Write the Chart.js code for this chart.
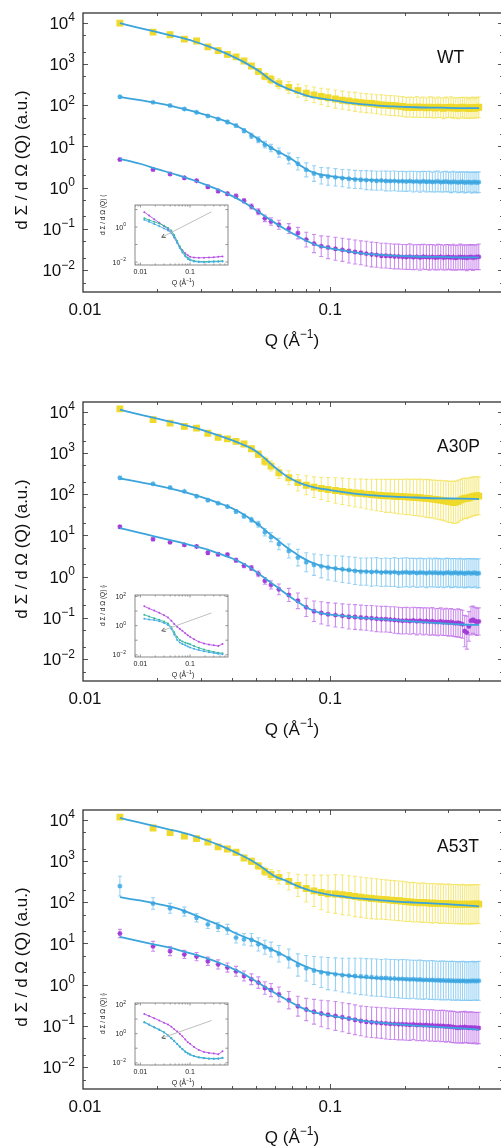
<!DOCTYPE html>
<html lang="en">
<head>
  <meta charset="UTF-8">
  <title>SANS curves WT / A30P / A53T</title>
  <script src="https://cdn.jsdelivr.net/npm/chart.js"></script>
  <style>
    html, body { margin: 0; padding: 0; background: #fff; overflow: hidden; }
    body { width: 501px; height: 1146px; position: relative; }
    canvas { position: absolute; }
  </style>
</head>
<body>
  <canvas id="main-wt" width="520" height="360" style="left:0;top:0"></canvas>
  <canvas id="main-a30p" width="520" height="360" style="left:0;top:389px"></canvas>
  <canvas id="main-a53t" width="520" height="360" style="left:0;top:797px"></canvas>
  <canvas id="inset-wt" width="140" height="100" style="left:95px;top:195px"></canvas>
  <canvas id="inset-a30p" width="140" height="100" style="left:95px;top:585px"></canvas>
  <canvas id="inset-a53t" width="140" height="100" style="left:95px;top:993px"></canvas>
  <script>
    // Q grid of the measured points (1/Å)
    const Q = [0.0141,0.0192,0.0225,0.0257,0.0288,0.0320,0.0352,0.0384,0.0416,0.0448,0.0480,0.0512,0.0544,0.0576,
      0.062,0.068,0.074,0.080,0.086,0.092,0.098,
      0.105,0.112,0.119,0.126,0.133,0.140,0.147,0.154,0.161,0.168,0.175,0.182,0.189,0.196,
      0.203,0.210,0.217,0.224,0.231,0.238,0.245,0.252,0.259,0.266,0.273,0.280,0.287,0.294,0.301,0.308,0.315,0.322,0.329,0.336,
      0.343,0.350,0.357,0.364,0.371,0.378,0.385,0.392,0.399];
    // Q grid of the fitted curves
    const FIT_Q = [0.0141,0.017,0.02,0.024,0.028,0.032,0.036,0.04,0.044,0.048,0.052,0.056,0.06,0.065,0.07,
      0.076,0.083,0.09,0.1,0.115,0.13,0.15,0.18,0.22,0.28,0.34,0.4];
    // Q grid of the insets
    const INSET_Q = [0.012,0.015,0.019,0.024,0.030,0.036,0.042,0.048,0.055,0.062,0.070,0.080,0.090,0.100,0.120,0.150,0.190,0.240,0.300,0.370,0.450];
    const ARROW_Q = [0.027, 0.27];

    // errors are given as half-width in hundredths of a decade
    // ---- WT ----
    const wtYellow = [9800,5900,5100,4000,3600,2600,2100,1700,1480,1180,890,660,500,420,
      330,270,225,195,178,162,151,
      141,132,126,120,115,112,110,105,102,100,98,97,95,93,
      89,90,88,91,87,89,86,90,88,85,89,87,84,88,86,90,85,87,84,86,89,85,87,83,86,88,84,87,89];
    const wtYellowErr = [1,2,2,2,2,2,3,3,3,4,5,6,8,10,
      12,14,16,18,19,20,21,
      22,22,22,23,23,23,23,23,24,24,24,24,24,24,
      24,24,24,25,24,25,24,25,25,24,25,24,25,25,24,25,25,24,25,25,24,25,25,24,25,25,24,25,25];
    const wtBlue = [160,117,98,81,67,55,46,39,32,24,18,14.5,11,9.1,
      7.1,5.1,3.8,2.7,2.2,1.95,1.86,
      1.78,1.70,1.64,1.58,1.56,1.52,1.50,1.47,1.49,1.45,1.44,1.46,1.42,1.43,
      1.41,1.44,1.40,1.42,1.38,1.43,1.39,1.41,1.37,1.40,1.42,1.36,1.39,1.41,1.37,1.35,1.40,1.38,1.34,1.37,1.39,1.33,1.36,1.38,1.32,1.35,1.37,1.33,1.36];
    const wtBlueErr = [2,2,2,2,3,3,3,4,4,5,6,7,8,9,
      11,13,15,17,19,20,21,
      21,21,22,22,22,23,23,23,23,24,24,24,24,24,
      24,24,25,24,25,24,25,25,24,25,25,24,25,25,24,25,25,24,25,25,24,25,25,24,25,25,24,25,25];
    const wtPurple = [4.8,2.75,2.15,1.74,1.48,1.05,0.83,0.71,0.62,0.48,0.35,0.26,0.18,0.151,
      0.126,0.102,0.079,0.055,0.044,0.038,0.0355,
      0.033,0.031,0.029,0.0275,0.0263,0.0251,0.024,0.0234,0.0224,0.0224,0.0219,0.0214,0.0214,0.0209,
      0.0208,0.0212,0.0205,0.0210,0.0203,0.0211,0.0207,0.0204,0.0209,0.0202,0.0206,0.0210,0.0201,0.0205,0.0208,
      0.0203,0.0207,0.0200,0.0204,0.0209,0.0202,0.0206,0.0199,0.0205,0.0208,0.0201,0.0204,0.0207,0.0210];
    const wtPurpleErr = [2,3,3,3,3,4,4,4,5,5,6,7,8,9,
      11,12,14,18,22,25,27,
      28,28,29,29,29,30,30,30,30,30,30,30,30,30,
      30,31,30,30,31,30,30,31,30,30,31,30,30,31,30,30,31,30,30,31,30,30,31,30,30,31,30,30,31];
    const wtYellowFit = [9770,7410,5890,4570,3550,2690,2040,1550,1170,871,646,457,347,275,229,191,162,148,135,117,107,100,93,89,87,85,85];
    const wtBlueFit = [158,132,112,89,71,56,45,35.5,26.9,19.5,14.1,10.5,8.1,6.3,4.9,3.4,2.5,2.14,1.91,1.70,1.58,1.51,1.45,1.41,1.38,1.35,1.35];
    const wtPurpleFit = [5.01,3.80,2.82,2.04,1.51,1.12,0.851,0.631,0.468,0.339,0.245,0.182,0.138,0.102,0.0794,0.0603,0.0468,0.0389,0.0339,0.0295,0.0263,0.0240,0.0224,0.0214,0.0209,0.0204,0.0204];

    // ---- A30P ----
    const a30pYellow = [11700,6400,5300,4400,4000,3000,2400,2200,1900,1650,1260,930,630,480,
      330,250,190,165,148,138,130,
      123,117,112,107,105,100,98,95,93,91,91,89,87,87,
      86,85,84,83,82,80,79,78,76,75,73,72,70,68,66,65,63,64,67,72,76,80,79,82,85,88,90,92,90];
    const a30pYellowErr = [2,2,2,2,3,3,3,4,4,5,6,8,10,12,
      14,17,20,23,25,27,29,
      31,32,33,34,35,36,37,38,39,40,40,41,42,42,
      43,43,44,44,45,45,46,46,46,47,47,48,48,49,50,50,51,51,51,50,50,49,49,48,48,47,47,46,46];
    const a30pBlue = [250,178,145,117,89,71,60,50,38,29.5,24,18.6,12,9.1,
      6.2,4.2,2.9,2.24,1.95,1.78,1.66,
      1.58,1.51,1.45,1.38,1.32,1.32,1.29,1.32,1.26,1.29,1.26,1.29,1.23,1.26,
      1.28,1.24,1.27,1.22,1.26,1.25,1.21,1.27,1.23,1.26,1.22,1.25,1.20,1.24,1.27,1.21,1.23,1.26,1.20,1.24,1.22,1.19,1.23,1.25,1.20,1.22,1.24,1.19,1.21];
    const a30pBlueErr = [2,2,2,2,3,3,3,4,4,5,6,7,9,11,
      14,17,20,23,26,28,30,
      31,32,32,33,33,33,34,34,34,34,34,35,35,35,
      35,35,34,35,35,34,35,35,34,35,35,34,35,35,34,35,35,34,35,35,34,35,35,34,35,35,34,35,35];
    const a30pPurple = [16.2,8.1,6.8,5.9,5.4,3.8,3.5,3.4,2.5,1.86,1.62,1.17,0.79,0.63,
      0.49,0.36,0.26,0.18,0.145,0.132,0.123,
      0.117,0.112,0.107,0.105,0.102,0.100,0.098,0.095,0.093,0.093,0.091,0.089,0.087,0.085,
      0.086,0.084,0.087,0.083,0.085,0.082,0.084,0.081,0.083,0.080,0.079,0.082,0.078,0.080,0.077,0.079,0.076,0.074,0.076,0.073,
      0.070,0.048,0.044,0.062,0.085,0.090,0.084,0.080,0.082];
    const a30pPurpleErr = [3,3,3,3,3,4,4,4,5,5,6,7,8,10,
      13,16,19,22,25,27,28,
      29,29,30,30,30,30,31,31,31,31,31,32,32,32,
      32,32,32,33,32,33,32,33,33,32,33,33,32,33,33,33,33,33,34,34,34,38,40,36,34,33,33,33,33];
    const a30pYellowFit = [11200,8510,6760,5250,4170,3240,2570,2040,1620,1290,933,631,437,302,229,182,155,138,126,110,100,93,87,83,79,78,76];
    const a30pBlueFit = [240,195,162,126,98,76,59,46,34,24,17,11.7,8.5,5.75,4.17,3.02,2.29,1.91,1.66,1.48,1.38,1.32,1.29,1.26,1.23,1.23,1.20];
    const a30pPurpleFit = [15.1,11.5,9.1,7.1,5.6,4.5,3.5,2.8,2.14,1.58,1.12,0.81,0.60,0.417,0.302,0.219,0.162,0.135,0.120,0.110,0.102,0.0955,0.0891,0.0813,0.0741,0.0692,0.0676];

    // ---- A53T ----
    const a53tYellow = [11500,6300,4900,4000,3470,2880,2190,1950,1620,1180,980,760,560,470,
      400,320,255,215,188,172,160,
      158,151,145,138,132,127,123,120,117,115,112,110,108,106,
      103,101,100,99,97,98,96,95,94,95,93,92,93,91,92,90,91,89,90,88,90,89,87,89,88,90,89,91,90];
    const a53tYellowErr = [5,5,5,4,4,4,5,5,6,6,7,8,10,12,
      16,21,27,33,38,42,45,
      47,48,48,49,49,49,49,49,48,48,48,48,48,48,
      48,47,48,47,47,48,47,47,48,47,47,48,47,47,48,47,47,48,47,47,48,47,47,48,47,47,48,47,47];
    const a53tBlue = [245,93,71,59,42,29,25,22,13.8,12.6,12.3,9.5,8.1,7.1,
      5.6,4.3,3.0,2.5,2.2,2.0,1.86,
      1.78,1.70,1.66,1.62,1.58,1.55,1.51,1.48,1.45,1.45,1.41,1.41,1.38,1.38,
      1.36,1.34,1.35,1.32,1.33,1.30,1.31,1.29,1.30,1.27,1.28,1.26,1.27,1.25,1.26,1.24,1.25,1.23,1.24,1.22,1.24,1.23,1.21,1.23,1.22,1.24,1.22,1.23,1.24];
    const a53tBlueErr = [24,14,12,11,10,10,11,12,13,14,15,16,17,18,
      20,23,27,31,34,37,39,
      40,41,42,43,44,44,45,45,45,46,46,46,46,47,
      47,47,46,47,47,47,46,47,47,47,46,47,47,47,46,47,47,47,46,47,47,47,46,47,47,47,46,47,47];
    const a53tPurple = [17.4,8.5,6.5,5.4,4.8,3.7,3.1,2.6,2.1,1.62,1.35,1.12,0.83,0.74,
      0.58,0.42,0.30,0.25,0.22,0.20,0.186,
      0.174,0.162,0.151,0.141,0.132,0.126,0.123,0.120,0.117,0.115,0.112,0.112,0.110,0.110,
      0.108,0.107,0.109,0.105,0.106,0.104,0.105,0.102,0.103,0.100,0.101,0.099,0.100,0.097,0.098,0.095,0.094,0.092,0.090,0.093,
      0.091,0.094,0.092,0.090,0.092,0.089,0.091,0.088,0.089];
    const a53tPurpleErr = [10,12,11,10,10,10,11,11,12,12,13,14,15,16,
      18,21,24,27,30,32,34,
      35,35,36,36,36,37,37,37,37,38,38,38,38,38,
      38,38,37,38,38,38,37,38,38,38,37,38,38,38,37,38,38,38,37,38,38,38,37,38,38,38,37,38,38];
    const a53tYellowFit = [11000,8510,6760,5250,4070,3090,2340,1780,1350,1020,759,550,417,347,282,229,191,170,151,135,123,115,105,98,91,85,79];
    const a53tBlueFit = [132,110,91,71,50,36,27,19.5,15.1,12.3,10,7.9,6.5,5.1,4.0,3.1,2.5,2.14,1.91,1.70,1.55,1.45,1.38,1.32,1.26,1.23,1.23];
    const a53tPurpleFit = [14.5,11.2,9.1,7.1,5.5,4.3,3.3,2.5,1.91,1.41,1.05,0.794,0.617,0.468,0.363,0.282,0.229,0.200,0.178,0.155,0.138,0.123,0.112,0.102,0.0933,0.0871,0.0813];

    // ---- insets ----
    const wtInPurple = [7.1,4.5,2.8,1.78,1.12,0.76,0.48,0.25,0.126,0.071,0.047,0.032,0.024,0.020,0.018,0.0174,0.0178,0.0182,0.0186,0.020,0.021];
    const wtInTeal = [3.2,2.5,2.0,1.58,1.2,0.89,0.63,0.35,0.158,0.079,0.045,0.025,0.0178,0.0141,0.0117,0.0107,0.0105,0.0107,0.011,0.0112,0.0115];
    const wtInCyan = [2.6,2.0,1.51,1.12,0.83,0.63,0.45,0.26,0.126,0.063,0.035,0.021,0.015,0.0126,0.0107,0.0100,0.0098,0.0100,0.0102,0.0105,0.0107];
    const wtArrow = [0.26, 7.4];
    const a30pInPurple = [21,15,10.7,7.6,5.2,3.6,2.2,1.32,0.85,0.60,0.44,0.30,0.22,0.17,0.117,0.079,0.060,0.050,0.045,0.040,0.056];
    const a30pInTeal = [5.6,4.2,3.2,2.5,1.9,1.41,0.79,0.355,0.158,0.105,0.083,0.068,0.059,0.052,0.040,0.030,0.023,0.019,0.0158,0.0138,0.0126];
    const a30pInCyan = [3.0,2.6,2.4,2.0,1.51,1.12,0.60,0.25,0.105,0.071,0.055,0.045,0.037,0.032,0.026,0.021,0.0174,0.0151,0.0132,0.0117,0.011];
    const a30pArrow = [0.44, 7.4];
    const a53tInPurple = [22,16,11.5,7.9,5.6,4.2,3.0,2.0,1.38,1.0,0.66,0.40,0.26,0.20,0.12,0.076,0.056,0.048,0.044,0.038,0.063];
    const a53tInTeal = [6.3,4.2,2.8,1.9,1.26,0.79,0.50,0.32,0.20,0.132,0.089,0.060,0.046,0.038,0.029,0.024,0.0214,0.020,0.0195,0.020,0.022];
    const a53tInCyan = [5.9,4.0,2.6,1.8,1.2,0.74,0.47,0.30,0.19,0.125,0.084,0.057,0.044,0.036,0.028,0.023,0.0205,0.019,0.0185,0.019,0.021];
    const a53tArrow = [0.5, 7.9];

    const FONT = '"Liberation Sans", Arial, Helvetica, sans-serif';
    const FIT = '#3ba4dd';
    const YELLOW = { pt: '#efd92a', err: 'rgba(241,226,80,0.75)' };
    const BLUE = { pt: '#4fb0e8', err: 'rgba(112,192,240,0.72)' };
    const PURPLE = { pt: '#a23bd8', err: 'rgba(184,98,232,0.72)' };

    function pts(xs, ys) { return ys.map((v, i) => ({ x: xs[i], y: v })); }

    function powLabel(ctx, exp, xRight, yMid, size) {
      const sup = Math.round(size * 0.7);
      const e = exp < 0 ? '\u2212' + (-exp) : String(exp);
      ctx.font = sup + 'px ' + FONT;
      const we = ctx.measureText(e).width;
      ctx.font = size + 'px ' + FONT;
      const wb = ctx.measureText('10').width;
      ctx.textAlign = 'left';
      ctx.textBaseline = 'alphabetic';
      const base = yMid + size * 0.36;
      ctx.fillText('10', xRight - we - wb, base);
      ctx.font = sup + 'px ' + FONT;
      ctx.fillText(e, xRight - we, base - size * 0.45);
    }

    function qTitle(ctx, cx, base, size) {
      const sup = Math.round(size * 0.7);
      const a = 'Q (\u00C5', e = '\u22121', b = ')';
      ctx.font = size + 'px ' + FONT;
      const wa = ctx.measureText(a).width, wb = ctx.measureText(b).width;
      ctx.font = sup + 'px ' + FONT;
      const we = ctx.measureText(e).width;
      let x0 = cx - (wa + we + wb) / 2;
      ctx.textAlign = 'left';
      ctx.textBaseline = 'alphabetic';
      ctx.font = size + 'px ' + FONT;
      ctx.fillText(a, x0, base);
      ctx.font = sup + 'px ' + FONT;
      ctx.fillText(e, x0 + wa, base - size * 0.45);
      ctx.font = size + 'px ' + FONT;
      ctx.fillText(b, x0 + wa + we, base);
    }

    function yTitle(ctx, cx, cy, size) {
      ctx.save();
      ctx.translate(cx, cy);
      ctx.rotate(-Math.PI / 2);
      ctx.font = size + 'px ' + FONT;
      ctx.textAlign = 'center';
      ctx.textBaseline = 'middle';
      ctx.fillText('d \u03A3 / d \u03A9 (Q) (a.u.)', 0, 0);
      ctx.restore();
    }

    // error bars + frame, ticks and labels of the big panels
    const frame = {
      id: 'frame',
      beforeDatasetsDraw(chart) {
        const { ctx, chartArea: a, scales: { x, y } } = chart;
        ctx.save();
        ctx.beginPath();
        ctx.rect(a.left, a.top, a.width, a.height);
        ctx.clip();
        chart.data.datasets.forEach(ds => {
          if (!ds.err) return;
          ctx.strokeStyle = ds.errColor;
          ctx.lineWidth = 1.1;
          ds.data.forEach((p, i) => {
            const f = Math.pow(10, ds.err[i] / 100);
            const px = x.getPixelForValue(p.x);
            const y1 = y.getPixelForValue(p.y * f), y2 = y.getPixelForValue(p.y / f);
            ctx.beginPath();
            ctx.moveTo(px, y1); ctx.lineTo(px, y2);
            ctx.moveTo(px - 2, y1); ctx.lineTo(px + 2, y1);
            ctx.moveTo(px - 2, y2); ctx.lineTo(px + 2, y2);
            ctx.stroke();
          });
        });
        ctx.restore();
      },
      afterDraw(chart, args, opts) {
        const { ctx, chartArea: a, scales: { x, y } } = chart;
        ctx.save();
        ctx.strokeStyle = '#555';
        ctx.lineWidth = 1;
        ctx.beginPath();
        for (let n = -3; n <= 4; n++) {
          [1, 2, 5].forEach(m => {
            const v = m * Math.pow(10, n);
            if (v <= y.min || v >= y.max) return;
            const py = Math.round(y.getPixelForValue(v)) + 0.5, len = m === 1 ? 5 : 3;
            ctx.moveTo(a.left, py); ctx.lineTo(a.left + len, py);
            ctx.moveTo(a.right, py); ctx.lineTo(a.right - len, py);
          });
        }
        for (let n = -2; n <= -1; n++) {
          for (let m = 1; m <= 9; m++) {
            const v = m * Math.pow(10, n);
            if (v <= x.min || v >= x.max) continue;
            const px = Math.round(x.getPixelForValue(v)) + 0.5, len = m === 1 ? 5 : 3;
            ctx.moveTo(px, a.bottom); ctx.lineTo(px, a.bottom - len);
            ctx.moveTo(px, a.top); ctx.lineTo(px, a.top + len);
          }
        }
        ctx.stroke();
        ctx.strokeStyle = '#333';
        ctx.lineWidth = 1.3;
        ctx.strokeRect(a.left, a.top, a.right - a.left, a.bottom - a.top);

        ctx.fillStyle = '#111';
        [-2, -1, 0, 1, 2, 3, 4].forEach(n => powLabel(ctx, n, a.left - 8, y.getPixelForValue(Math.pow(10, n)), 17));
        ctx.font = '17px ' + FONT;
        ctx.textAlign = 'center';
        ctx.textBaseline = 'middle';
        ctx.fillText('0.01', x.getPixelForValue(0.01) + 2, a.bottom + 18);
        ctx.fillText('0.1', x.getPixelForValue(0.1), a.bottom + 18);
        qTitle(ctx, 292, a.bottom + 54, 17);
        yTitle(ctx, 22, a.top + 147, 17);
        ctx.font = '17.5px ' + FONT;
        ctx.textAlign = 'left';
        ctx.fillText(opts.name, 437, opts.nameY);
        ctx.restore();
      }
    };

    // frame, ticks, labels and arrow of the small insets
    const insetFrame = {
      id: 'insetFrame',
      afterDraw(chart, args, opts) {
        const { ctx, chartArea: a, scales: { x, y } } = chart;
        ctx.save();
        // arrow head at the first point of the grey line
        const arrow = chart.data.datasets.find(d => d.arrow);
        if (arrow) {
          const p0 = arrow.data[0], p1 = arrow.data[1];
          const x0 = x.getPixelForValue(p0.x), y0 = y.getPixelForValue(p0.y);
          const x1 = x.getPixelForValue(p1.x), y1 = y.getPixelForValue(p1.y);
          const ang = Math.atan2(y1 - y0, x1 - x0);
          ctx.strokeStyle = '#555';
          ctx.lineWidth = 1;
          ctx.beginPath();
          ctx.moveTo(x0 + 4 * Math.cos(ang + 0.5), y0 + 4 * Math.sin(ang + 0.5));
          ctx.lineTo(x0, y0);
          ctx.lineTo(x0 + 4 * Math.cos(ang - 0.5), y0 + 4 * Math.sin(ang - 0.5));
          ctx.stroke();
        }
        ctx.strokeStyle = '#777';
        ctx.lineWidth = 0.8;
        ctx.beginPath();
        for (let n = -3; n <= 2; n++) {
          const v = Math.pow(10, n);
          if (v <= y.min || v >= y.max) continue;
          const py = y.getPixelForValue(v);
          ctx.moveTo(a.left, py); ctx.lineTo(a.left + 2.5, py);
          ctx.moveTo(a.right, py); ctx.lineTo(a.right - 2.5, py);
        }
        for (let n = -3; n <= -1; n++) {
          for (let m = 1; m <= 9; m++) {
            const v = m * Math.pow(10, n);
            if (v <= x.min || v >= x.max) continue;
            const px = x.getPixelForValue(v), len = m === 1 ? 2.5 : 1.5;
            ctx.moveTo(px, a.bottom); ctx.lineTo(px, a.bottom - len);
            ctx.moveTo(px, a.top); ctx.lineTo(px, a.top + len);
          }
        }
        ctx.stroke();
        ctx.strokeStyle = '#8a8a8a';
        ctx.lineWidth = 1;
        ctx.strokeRect(a.left, a.top, a.right - a.left, a.bottom - a.top);

        ctx.fillStyle = '#222';
        opts.yTicks.forEach(n => powLabel(ctx, n, a.left - 9, y.getPixelForValue(Math.pow(10, n)), 7));
        ctx.font = '7px ' + FONT;
        ctx.textAlign = 'center';
        ctx.textBaseline = 'middle';
        ctx.fillText('0.01', x.getPixelForValue(0.01), a.bottom + 7);
        ctx.fillText('0.1', x.getPixelForValue(0.1), a.bottom + 7);
        qTitle(ctx, a.left + 48, a.bottom + 20, 7);
        ctx.save();
        ctx.translate(a.left - 30, (a.top + a.bottom) / 2);
        ctx.rotate(-Math.PI / 2);
        ctx.font = '6.5px ' + FONT;
        ctx.fillText('d \u03A3 / d \u03A9 (Q) (a.u.)', 0, 0);
        ctx.restore();
        ctx.restore();
      }
    };

    function dataSet(ys, errs, c, style, r) {
      return {
        data: pts(Q, ys), err: errs, errColor: c.err, showLine: false,
        pointStyle: style, pointRadius: r, pointBackgroundColor: c.pt,
        pointBorderColor: c.pt, pointBorderWidth: 1.2, order: 2
      };
    }
    function fitSet(ys) {
      return {
        data: pts(FIT_Q, ys), showLine: true, borderColor: FIT, borderWidth: 1.8,
        pointRadius: 0, cubicInterpolationMode: 'monotone', order: 1
      };
    }
    function mainChart(id, sets, opts) {
      new Chart(document.getElementById(id), {
        type: 'scatter',
        data: { datasets: sets },
        options: {
          responsive: false, animation: false, events: [],
          layout: { padding: { left: 83, right: 17, top: 13, bottom: 68 } },
          scales: {
            x: { type: 'logarithmic', min: 0.01, max: 0.5, display: false },
            y: { type: 'logarithmic', min: 0.00295, max: 17180, display: false }
          },
          plugins: { legend: { display: false }, tooltip: { enabled: false }, frame: opts }
        },
        plugins: [frame]
      });
    }

    function inLine(ys, color) {
      return {
        data: pts(INSET_Q, ys), showLine: true, borderColor: color, borderWidth: 0.9,
        pointRadius: 1, pointBackgroundColor: color, pointBorderColor: color, pointBorderWidth: 0
      };
    }
    function insetChart(id, purple, teal, cyan, arrow, yMin, yMax, yTicks, padBottom) {
      new Chart(document.getElementById(id), {
        type: 'scatter',
        data: {
          datasets: [
            { data: pts(ARROW_Q, arrow), arrow: true, showLine: true, borderColor: '#b8b8b8', borderWidth: 0.9, pointRadius: 0 },
            inLine(cyan, '#45ade4'),
            inLine(teal, '#35b89a'),
            inLine(purple, '#b64fe3')
          ]
        },
        options: {
          responsive: false, animation: false, events: [],
          layout: { padding: { left: 40, right: 7, top: 10, bottom: padBottom } },
          scales: {
            x: { type: 'logarithmic', min: 0.0078, max: 0.58, display: false },
            y: { type: 'logarithmic', min: yMin, max: yMax, display: false }
          },
          plugins: { legend: { display: false }, tooltip: { enabled: false }, insetFrame: { yTicks } }
        },
        plugins: [insetFrame]
      });
    }

    mainChart('main-wt', [
      fitSet(wtYellowFit), fitSet(wtBlueFit), fitSet(wtPurpleFit),
      dataSet(wtYellow, wtYellowErr, YELLOW, 'rect', 4),
      dataSet(wtBlue, wtBlueErr, BLUE, 'star', 2.5),
      dataSet(wtPurple, wtPurpleErr, PURPLE, 'star', 2.5)
    ], { name: 'WT', nameY: 63 });
    mainChart('main-a30p', [
      fitSet(a30pYellowFit), fitSet(a30pBlueFit), fitSet(a30pPurpleFit),
      dataSet(a30pYellow, a30pYellowErr, YELLOW, 'rect', 4),
      dataSet(a30pBlue, a30pBlueErr, BLUE, 'star', 2.5),
      dataSet(a30pPurple, a30pPurpleErr, PURPLE, 'star', 2.5)
    ], { name: 'A30P', nameY: 63 });
    mainChart('main-a53t', [
      fitSet(a53tYellowFit), fitSet(a53tBlueFit), fitSet(a53tPurpleFit),
      dataSet(a53tYellow, a53tYellowErr, YELLOW, 'rect', 4),
      dataSet(a53tBlue, a53tBlueErr, BLUE, 'star', 2.5),
      dataSet(a53tPurple, a53tPurpleErr, PURPLE, 'star', 2.5)
    ], { name: 'A53T', nameY: 55 });

    insetChart('inset-wt', wtInPurple, wtInTeal, wtInCyan, wtArrow, 0.00676, 18.2, [0, -2], 30);
    insetChart('inset-a30p', a30pInPurple, a30pInTeal, a30pInCyan, a30pArrow, 0.00708, 126, [2, 0, -2], 28);
    insetChart('inset-a53t', a53tInPurple, a53tInTeal, a53tInCyan, a53tArrow, 0.00708, 126, [2, 0, -2], 28);
  </script>
</body>
</html>
